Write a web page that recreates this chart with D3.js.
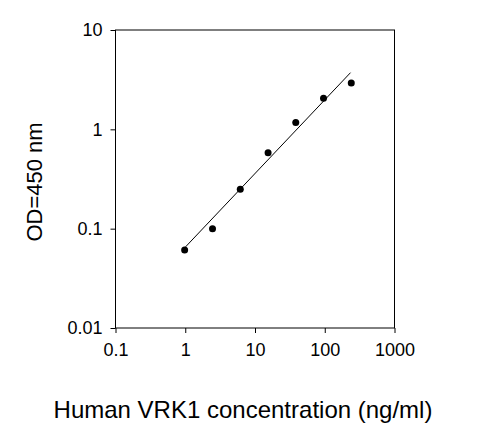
<!DOCTYPE html>
<html lang="en">
<head>
<script src="https://d3js.org/d3.v7.min.js"></script>
<style>
	body { margin: 0; background: #fff; font-family: "Liberation Sans", Arial, sans-serif; }
</style>
</head>
<body>
<script>
	// data
	var concentration = [0.98, 2.46, 6.15, 15.4, 38.4, 96, 240];
	var od = [0.061, 0.10, 0.25, 0.58, 1.17, 2.06, 2.92];
	var fitX = [1.01, 234];
	var fitY = [0.0656, 3.72];
	var xTicks = [0.1, 1, 10, 100, 1000];
	var yTicks = [0.01, 0.1, 1, 10];

	var width = 489, height = 443;
	var svg = d3.select("body").append("svg")
		.attr("width", width).attr("height", height);

	var x = d3.scaleLog().domain([0.1, 1000]).range([115.5, 394.5]);
	var y = d3.scaleLog().domain([0.01, 10]).range([328, 30]);

	// frame
	svg.append("rect")
		.attr("x", 115.5).attr("y", 30).attr("width", 279).attr("height", 298)
		.attr("fill", "none").attr("stroke", "#000").attr("stroke-width", 1);

	var fmt = function(d) { return d >= 1 ? d3.format("d")(d) : String(d); };

	var xAxis = svg.append("g").attr("transform", "translate(0,328)")
		.call(d3.axisBottom(x).tickValues(xTicks).tickFormat(fmt).tickSize(5).tickPadding(10));
	var yAxis = svg.append("g").attr("transform", "translate(115.5,0)")
		.call(d3.axisLeft(y).tickValues(yTicks).tickFormat(fmt).tickSize(5).tickPadding(8));
	[xAxis, yAxis].forEach(function(a) {
		a.select(".domain").remove();
		a.selectAll("text").attr("font-size", 18).attr("font-family", "Liberation Sans, Arial, sans-serif").attr("fill", "#000");
		a.selectAll("line").attr("stroke", "#000");
	});

	// fit line
	svg.append("line")
		.attr("x1", x(fitX[0])).attr("y1", y(fitY[0]))
		.attr("x2", x(fitX[1])).attr("y2", y(fitY[1]))
		.attr("stroke", "#000").attr("stroke-width", 1);

	svg.selectAll("circle.pt")
		.data(concentration)
		.enter().append("circle")
		.attr("class", "pt")
		.attr("cx", function(d) { return x(d); })
		.attr("cy", function(d, i) { return y(od[i]); })
		.attr("r", 3.5)
		.attr("fill", "#000");

	svg.append("text")
		.attr("x", 243).attr("y", 418)
		.attr("text-anchor", "middle").attr("font-size", 24)
		.text("Human VRK1 concentration (ng/ml)");

	svg.append("text")
		.attr("transform", "translate(42,182) rotate(-90)")
		.attr("text-anchor", "middle").attr("font-size", 22)
		.text("OD=450 nm");
</script>
</body>
</html>
